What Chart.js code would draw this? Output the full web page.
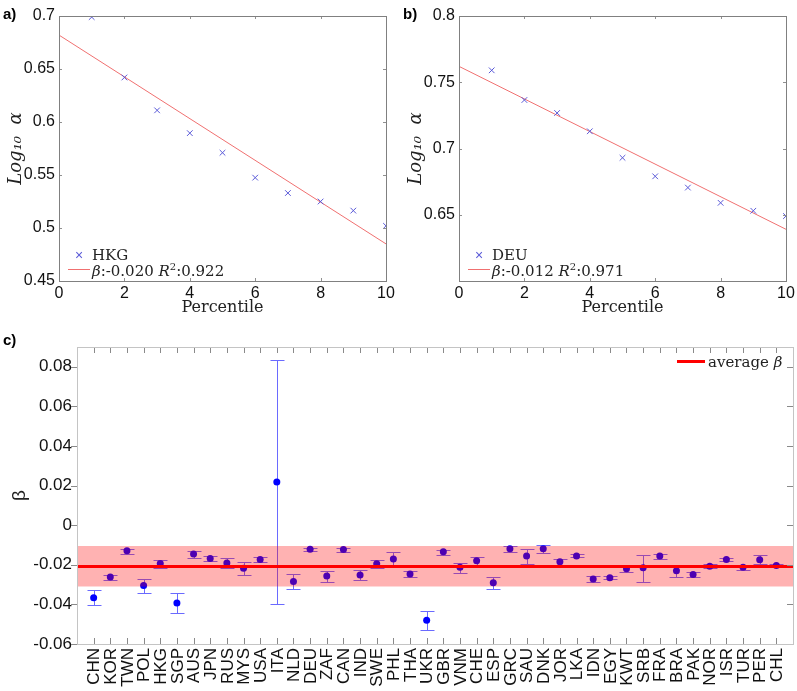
<!DOCTYPE html>
<html>
<head>
<meta charset="utf-8">
<script src="https://cdn.jsdelivr.net/npm/chart.js@4.4.0/dist/chart.umd.min.js"></script>
<style>
body { margin: 0; width: 797px; height: 691px; position: relative; background: #fff; overflow: hidden; font-family: "Liberation Sans", Arial, sans-serif; }
canvas { position: absolute; }
.tag { position: absolute; font-weight: bold; font-size: 15px; line-height: 1; }
.leg { position: absolute; font-family: "DejaVu Serif", serif; font-size: 15px; line-height: 1; transform: translateY(-50%); white-space: nowrap; color: #222; }
.leg sup { font-size: 10px; vertical-align: 6px; }
.mark { position: absolute; color: #5a5ad8; font-size: 14px; line-height: 1; transform: translate(-50%, -50%); }
.swatch { position: absolute; height: 0; }
</style>
</head>
<body>
<canvas id="chartA" width="400" height="320" style="left:0;top:0"></canvas>
<canvas id="chartB" width="397" height="320" style="left:400px;top:0"></canvas>
<canvas id="chartC" width="797" height="371" style="left:0;top:320px"></canvas>

<div class="tag" style="left:3px;top:6px">a)</div>
<div class="tag" style="left:403px;top:6px">b)</div>
<div class="tag" style="left:3px;top:332px">c)</div>

<div class="mark" style="left:79px;top:255px">×</div>
<div class="leg" style="left:92px;top:255px">HKG</div>
<div class="swatch" style="left:68px;top:269px;width:22px;border-top:1px solid #f07070"></div>
<div class="leg" style="left:92px;top:270px"><i>β</i>:-0.020 <i>R</i><sup>2</sup>:0.922</div>

<div class="mark" style="left:479px;top:255px">×</div>
<div class="leg" style="left:492px;top:255px">DEU</div>
<div class="swatch" style="left:468px;top:269px;width:22px;border-top:1px solid #f07070"></div>
<div class="leg" style="left:492px;top:270px"><i>β</i>:-0.012 <i>R</i><sup>2</sup>:0.971</div>

<div class="swatch" style="left:677px;top:360px;width:28px;border-top:3px solid #ff0000"></div>
<div class="leg" style="left:708px;top:362px">average <i>β</i></div>

<script>
// panel a / b: log10 alpha per percentile
const percentile = [1, 2, 3, 4, 5, 6, 7, 8, 9, 10];
const hkgAlpha = [0.699, 0.642, 0.611, 0.5895, 0.571, 0.5475, 0.533, 0.525, 0.5164, 0.502];
const hkgFit = [0.682, 0.485];   // fitted line at percentile 0 and 10
const deuAlpha = [0.759, 0.7366, 0.7268, 0.713, 0.693, 0.679, 0.6705, 0.659, 0.653, 0.649];
const deuFit = [0.762, 0.639];
const fitX = [0, 10];

const xTicksAB = [0, 2, 4, 6, 8, 10];
const yTicksA = [0.45, 0.5, 0.55, 0.6, 0.65, 0.7];
const yTicksB = [0.6, 0.65, 0.7, 0.75, 0.8];

// panel c: beta per country with error bars
const countries = ['CHN','KOR','TWN','POL','HKG','SGP','AUS','JPN','RUS','MYS','USA','ITA','NLD','DEU','ZAF','CAN','IND','SWE','PHL','THA','UKR','GBR','VNM','CHE','ESP','GRC','SAU','DNK','JOR','LKA','IDN','EGY','KWT','SRB','FRA','BRA','PAK','NOR','ISR','TUR','PER','CHL'];
const beta = [-0.0366,-0.0262,-0.0129,-0.0304,-0.0193,-0.0393,-0.0146,-0.0168,-0.0191,-0.0217,-0.0173,0.0218,-0.0284,-0.0121,-0.0257,-0.0123,-0.0252,-0.0195,-0.0171,-0.0247,-0.0480,-0.0134,-0.0213,-0.0180,-0.0291,-0.0119,-0.0156,-0.0119,-0.0185,-0.0155,-0.0272,-0.0265,-0.0220,-0.0215,-0.0156,-0.0230,-0.0249,-0.0207,-0.0173,-0.0212,-0.0175,-0.0203];
const betaHi = [-0.0329,-0.0250,-0.0119,-0.0270,-0.0175,-0.0343,-0.0129,-0.0155,-0.0166,-0.0186,-0.0161,0.0835,-0.0245,-0.0113,-0.0230,-0.0114,-0.0225,-0.0176,-0.0134,-0.0232,-0.0433,-0.0123,-0.0191,-0.0160,-0.0262,-0.0106,-0.0119,-0.0101,-0.0173,-0.0146,-0.0257,-0.0257,-0.0205,-0.0148,-0.0144,-0.0203,-0.0238,-0.0196,-0.0166,-0.0200,-0.0151,-0.0195];
const betaLo = [-0.0405,-0.0275,-0.0144,-0.0341,-0.0215,-0.0442,-0.0166,-0.0183,-0.0218,-0.0250,-0.0188,-0.0396,-0.0322,-0.0129,-0.0285,-0.0134,-0.0275,-0.0218,-0.0212,-0.0262,-0.0529,-0.0149,-0.0240,-0.0202,-0.0321,-0.0136,-0.0195,-0.0139,-0.0202,-0.0163,-0.0289,-0.0274,-0.0238,-0.0285,-0.0170,-0.0260,-0.0260,-0.0218,-0.0181,-0.0225,-0.0195,-0.0212];
const betaAvg = -0.0208;
const betaBand = [-0.031, -0.0105];
const yTicksC = [-0.06, -0.04, -0.02, 0, 0.02, 0.04, 0.06, 0.08];

Chart.defaults.font.family = '"Liberation Sans", Arial, sans-serif';
Chart.defaults.color = '#111';

function fixAxis(w, h) {
  return function (scale) {
    if (w) scale.width = w;
    if (h) scale.height = h;
    scale.paddingLeft = 0; scale.paddingRight = 0;
    scale.paddingTop = 0; scale.paddingBottom = 0;
  };
}

// box round the plot area with small tick marks
function frame(color, tickColor, len, leftOut) {
  return {
    id: 'frame',
    afterDatasetsDraw(chart) {
      const { ctx, chartArea: a, scales: { x, y } } = chart;
      ctx.save();
      ctx.lineWidth = 1;
      ctx.strokeStyle = tickColor;
      ctx.beginPath();
      x.ticks.forEach(t => {
        const px = Math.round(x.getPixelForValue(t.value)) + 0.5;
        ctx.moveTo(px, a.bottom); ctx.lineTo(px, a.bottom - len);
        ctx.moveTo(px, a.top); ctx.lineTo(px, a.top + len);
      });
      y.ticks.forEach(t => {
        const py = Math.round(y.getPixelForValue(t.value)) + 0.5;
        if (leftOut) { ctx.moveTo(a.left, py); ctx.lineTo(a.left - len, py); }
        else { ctx.moveTo(a.left, py); ctx.lineTo(a.left + len, py); }
        ctx.moveTo(a.right, py); ctx.lineTo(a.right - len, py);
      });
      ctx.stroke();
      ctx.strokeStyle = color;
      ctx.strokeRect(Math.round(a.left) + 0.5, Math.round(a.top) + 0.5,
        Math.round(a.right - a.left), Math.round(a.bottom - a.top));
      ctx.restore();
    }
  };
}

function percentilePanel(id, alpha, fit, yTicks, yMin, yMax, hideMin, rightPad) {
  new Chart(document.getElementById(id), {
    type: 'scatter',
    data: {
      datasets: [{
        data: percentile.map((p, i) => ({ x: p, y: alpha[i] })),
        pointStyle: 'crossRot',
        pointRadius: 4,
        borderColor: '#5a5ad8',
        borderWidth: 1
      }, {
        data: fitX.map((p, i) => ({ x: p, y: fit[i] })),
        showLine: true,
        pointRadius: 0,
        borderColor: '#f07070',
        borderWidth: 1
      }]
    },
    options: {
      responsive: false,
      animation: false,
      layout: { padding: { left: 0, top: 16, right: rightPad, bottom: 0 } },
      plugins: { legend: { display: false }, tooltip: { enabled: false } },
      scales: {
        x: {
          min: 0, max: 10,
          afterBuildTicks: s => { s.ticks = xTicksAB.map(v => ({ value: v })); },
          afterFit: fixAxis(0, 39),
          grid: { display: false, drawTicks: false },
          border: { display: false },
          ticks: { padding: 3, font: { size: 16 }, maxRotation: 0 },
          title: { display: true, text: 'Percentile', color: '#222',
                   font: { family: '"DejaVu Serif", serif', size: 16 }, padding: { top: 0, bottom: 3 } }
        },
        y: {
          min: yMin, max: yMax,
          afterBuildTicks: s => { s.ticks = yTicks.map(v => ({ value: v })); },
          afterFit: fixAxis(59, 0),
          grid: { display: false, drawTicks: false },
          border: { display: false },
          ticks: { padding: 4, font: { size: 16 },
                   callback: v => (hideMin && v === yMin) ? '' : String(parseFloat(v.toFixed(3))) },
          title: { display: true, text: 'Log\u2081\u2080  \u03b1', color: '#222',
                   font: { family: '"DejaVu Serif", serif', size: 18, style: 'italic' }, padding: { top: 6, bottom: 0 } }
        }
      }
    },
    plugins: [frame('#808080', '#909090', 3, false)]
  });
}

percentilePanel('chartA', hkgAlpha, hkgFit, yTicksA, 0.45, 0.7, false, 14);
percentilePanel('chartB', deuAlpha, deuFit, yTicksB, 0.6, 0.8, true, 11);

const errorBars = {
  id: 'errorBars',
  beforeDatasetDraw(chart, args) {
    if (args.index !== 0) return;
    const { ctx, scales: { x, y } } = chart;
    ctx.save();
    ctx.strokeStyle = '#6a6aff';
    ctx.lineWidth = 1;
    ctx.beginPath();
    countries.forEach((c, i) => {
      const px = Math.round(x.getPixelForValue(i + 1)) + 0.5;
      const lo = Math.round(y.getPixelForValue(betaLo[i])) + 0.5;
      const hi = Math.round(y.getPixelForValue(betaHi[i])) + 0.5;
      ctx.moveTo(px, lo); ctx.lineTo(px, hi);
      ctx.moveTo(px - 7, lo); ctx.lineTo(px + 7, lo);
      ctx.moveTo(px - 7, hi); ctx.lineTo(px + 7, hi);
    });
    ctx.stroke();
    ctx.restore();
  }
};

// vertical country names under the x axis, placed by the x scale
const countryLabels = {
  id: 'countryLabels',
  afterDraw(chart) {
    const { ctx, chartArea: a, scales: { x } } = chart;
    ctx.save();
    ctx.font = '17px "Liberation Sans", Arial, sans-serif';
    ctx.fillStyle = '#111';
    ctx.textAlign = 'right';
    ctx.textBaseline = 'middle';
    countries.forEach((c, i) => {
      ctx.save();
      ctx.translate(x.getPixelForValue(i + 1) + 1, a.bottom + 4);
      ctx.rotate(-Math.PI / 2);
      ctx.fillText(c, 0, 0);
      ctx.restore();
    });
    ctx.restore();
  }
};

new Chart(document.getElementById('chartC'), {
  type: 'scatter',
  data: {
    datasets: [{
      data: countries.map((c, i) => ({ x: i + 1, y: beta[i] })),
      pointRadius: 3.5,
      backgroundColor: '#0000ff',
      borderWidth: 0,
      order: 3
    }, {
      data: [{ x: 0, y: betaBand[1] }, { x: countries.length + 1, y: betaBand[1] }],
      showLine: true,
      pointRadius: 0,
      borderWidth: 0,
      borderColor: 'rgba(0,0,0,0)',
      fill: { value: betaBand[0] },
      backgroundColor: 'rgba(255,0,0,0.3)',
      order: 2
    }, {
      data: [{ x: 0, y: betaAvg }, { x: countries.length + 1, y: betaAvg }],
      showLine: true,
      pointRadius: 0,
      borderColor: '#ff0000',
      borderWidth: 3,
      order: 1
    }]
  },
  options: {
    responsive: false,
    animation: false,
    layout: { padding: { left: 0, top: 27, right: 4, bottom: 0 } },
    plugins: { legend: { display: false }, tooltip: { enabled: false } },
    scales: {
      x: {
        min: 0, max: countries.length + 1,
        afterBuildTicks: s => { s.ticks = countries.map((c, i) => ({ value: i + 1 })); },
        afterFit: fixAxis(0, 47),
        grid: { display: false, drawTicks: false },
        border: { display: false },
        ticks: { display: false }
      },
      y: {
        min: -0.06, max: 0.09,
        afterBuildTicks: s => { s.ticks = yTicksC.map(v => ({ value: v })); },
        afterFit: fixAxis(77, 0),
        grid: { display: false, drawTicks: false },
        border: { display: false },
        ticks: { padding: 5, font: { size: 17 }, callback: v => v === 0 ? '0' : v.toFixed(2) },
        title: { display: true, text: '\u03b2', color: '#222', font: { size: 19 }, padding: { top: 8, bottom: 0 } }
      }
    }
  },
  plugins: [errorBars, countryLabels, frame('#c4c4c4', '#8a8a8a', 6, true)]
});
</script>
</body>
</html>
